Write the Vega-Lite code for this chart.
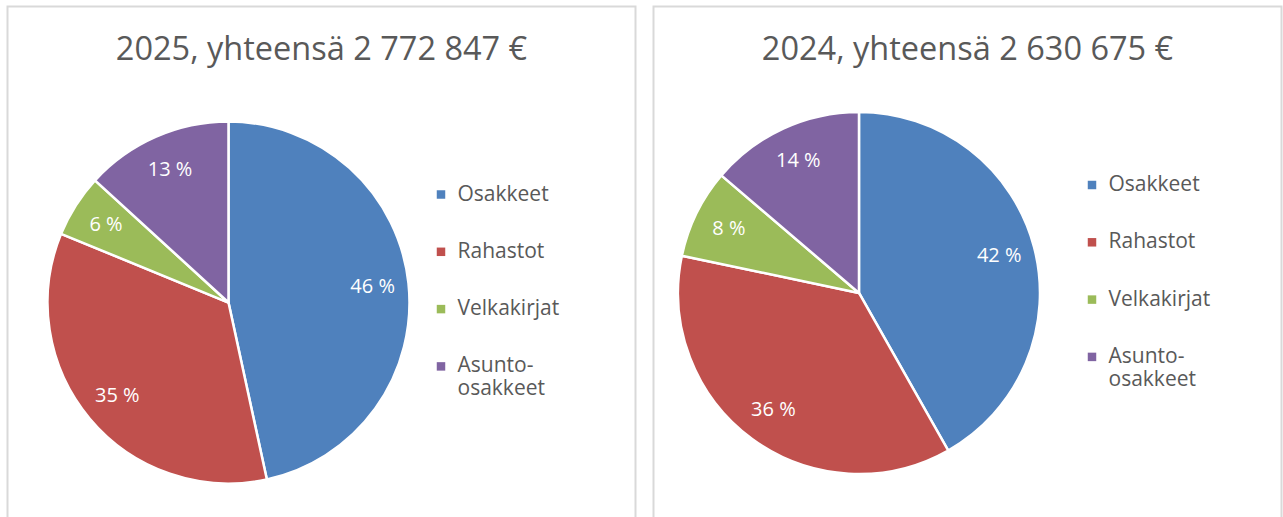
{
  "$schema": "https://vega.github.io/schema/vega-lite/v6.json",
  "background": "white",
  "padding": {"left": 6.5, "top": 5.5, "right": 0, "bottom": 0},
  "spacing": 16,
  "config": {
    "view": {"stroke": "#d9d9d9", "strokeWidth": 2},
    "font": "Open Sans",
    "title": {"fontSize": 32.5, "font": "Open Sans", "fontWeight": "normal", "color": "#595959", "anchor": "middle", "baseline": "alphabetic", "offset": -59.5, "frame": "group"},
    "legend": {"orient": "none", "symbolType": "square", "symbolSize": 72, "symbolStrokeWidth": 0, "labelFontSize": 21, "labelFont": "Open Sans", "labelColor": "#595959", "rowPadding": 35.3, "labelOffset": 6, "padding": 0, "labelLimit": 300}
  },
  "datasets": {
    "y2025": [
      {"cat": "Osakkeet", "ord": 1, "share": 46.6, "label": "46 %"},
      {"cat": "Rahastot", "ord": 2, "share": 34.6, "label": "35 %"},
      {"cat": "Velkakirjat", "ord": 3, "share": 5.6, "label": "6 %"},
      {"cat": "Asunto-osakkeet", "ord": 4, "share": 13.2, "label": "13 %"}
    ],
    "y2024": [
      {"cat": "Osakkeet", "ord": 1, "share": 41.8, "label": "42 %"},
      {"cat": "Rahastot", "ord": 2, "share": 36.5, "label": "36 %"},
      {"cat": "Velkakirjat", "ord": 3, "share": 7.95, "label": "8 %"},
      {"cat": "Asunto-osakkeet", "ord": 4, "share": 13.75, "label": "14 %"}
    ]
  },
  "hconcat": [
    {
      "width": 628,
      "height": 520,
      "title": {"text": "2025, yhteensä 2 772 847 €"},
      "data": {"name": "y2025"},
      "encoding": {
        "theta": {"field": "share", "type": "quantitative", "stack": true},
        "order": {"field": "ord", "type": "quantitative"},
        "x": {"datum": 0.3519, "type": "quantitative", "scale": {"domain": [0, 1]}, "axis": null},
        "y": {"datum": 0.4307, "type": "quantitative", "scale": {"domain": [0, 1]}, "axis": null}
      },
      "layer": [
        {
          "mark": {"type": "arc", "radius": 181, "stroke": "white", "strokeWidth": 2.5},
          "encoding": {
            "color": {
              "field": "cat", "type": "nominal",
              "scale": {"domain": ["Osakkeet", "Rahastot", "Velkakirjat", "Asunto-osakkeet"], "range": ["#4F81BD", "#C0504D", "#9BBB59", "#8064A2"]},
              "legend": {"title": null, "legendX": 423, "legendY": 177.5, "labelExpr": "datum.label == 'Asunto-osakkeet' ? ['Asunto-', 'osakkeet'] : datum.label"}
            }
          }
        },
        {
          "mark": {"type": "text", "radius": 145, "color": "white", "fontSize": 20, "font": "Open Sans"},
          "encoding": {"text": {"field": "label", "type": "nominal"}}
        }
      ]
    },
    {
      "width": 628,
      "height": 520,
      "title": {"text": "2024, yhteensä 2 630 675 €"},
      "data": {"name": "y2024"},
      "encoding": {
        "theta": {"field": "share", "type": "quantitative", "stack": true},
        "order": {"field": "ord", "type": "quantitative"},
        "x": {"datum": 0.3272, "type": "quantitative", "scale": {"domain": [0, 1]}, "axis": null},
        "y": {"datum": 0.4491, "type": "quantitative", "scale": {"domain": [0, 1]}, "axis": null}
      },
      "layer": [
        {
          "mark": {"type": "arc", "radius": 181, "stroke": "white", "strokeWidth": 2.5},
          "encoding": {
            "color": {
              "field": "cat", "type": "nominal",
              "scale": {"domain": ["Osakkeet", "Rahastot", "Velkakirjat", "Asunto-osakkeet"], "range": ["#4F81BD", "#C0504D", "#9BBB59", "#8064A2"]},
              "legend": {"title": null, "legendX": 428, "legendY": 168, "labelExpr": "datum.label == 'Asunto-osakkeet' ? ['Asunto-', 'osakkeet'] : datum.label"}
            }
          }
        },
        {
          "mark": {"type": "text", "radius": 145, "color": "white", "fontSize": 20, "font": "Open Sans"},
          "encoding": {"text": {"field": "label", "type": "nominal"}}
        }
      ]
    }
  ],
  "resolve": {"legend": {"color": "independent"}, "scale": {"x": "independent", "y": "independent", "theta": "independent"}}
}
